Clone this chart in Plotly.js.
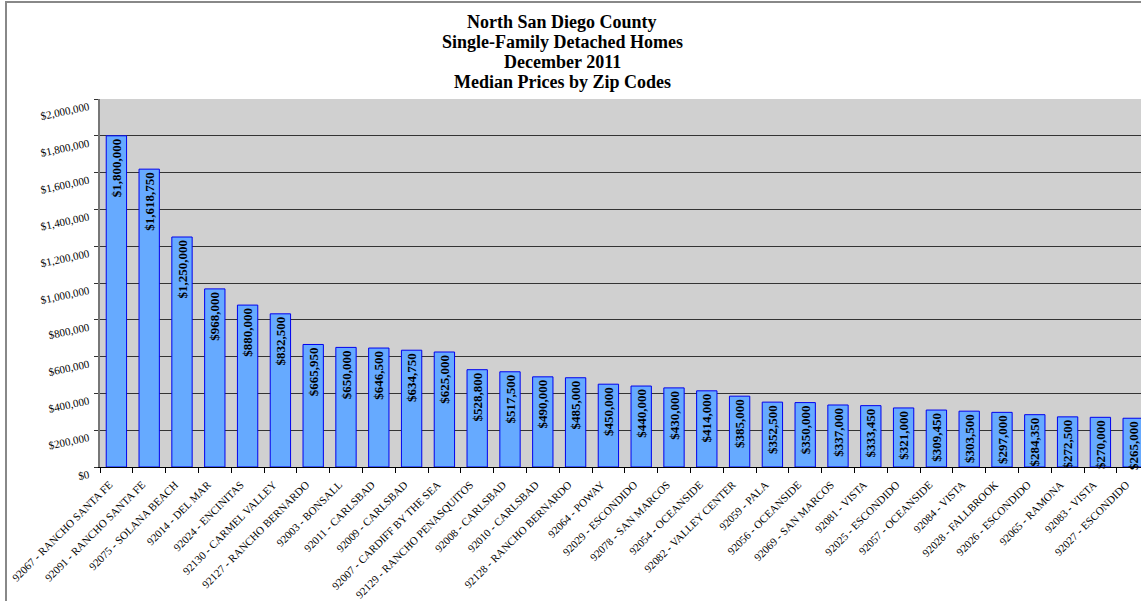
<!DOCTYPE html>
<html>
<head>
<meta charset="utf-8">
<script src="https://cdn.plot.ly/plotly-3.0.1.min.js"></script>
<style>html,body{margin:0;padding:0;background:#fff;overflow:hidden}#chart{width:1141px;height:601px}</style>
</head>
<body>
<div id="chart"></div>
<script>
const zipAreas = [
  "92067 - RANCHO SANTA FE","92091 - RANCHO SANTA FE","92075 - SOLANA BEACH","92014 - DEL MAR",
  "92024 - ENCINITAS","92130 - CARMEL VALLEY","92127 - RANCHO BERNARDO","92003 - BONSALL",
  "92011 - CARLSBAD","92009 - CARLSBAD","92007 - CARDIFF BY THE SEA","92129 - RANCHO PENASQUITOS",
  "92008 - CARLSBAD","92010 - CARLSBAD","92128 - RANCHO BERNARDO","92064 - POWAY",
  "92029 - ESCONDIDO","92078 - SAN MARCOS","92054 - OCEANSIDE","92082 - VALLEY CENTER",
  "92059 - PALA","92056 - OCEANSIDE","92069 - SAN MARCOS","92081 - VISTA",
  "92025 - ESCONDIDO","92057 - OCEANSIDE","92084 - VISTA","92028 - FALLBROOK",
  "92026 - ESCONDIDO","92065 - RAMONA","92083 - VISTA","92027 - ESCONDIDO"
];
const medianPrices = [
  1800000,1618750,1250000,968000,880000,832500,665950,650000,
  646500,634750,625000,528800,517500,490000,485000,450000,
  440000,430000,414000,385000,352500,350000,337000,333450,
  321000,309450,303500,297000,284350,272500,270000,265000
];
const titleLines = ["North San Diego County","Single-Family Detached Homes","December 2011","Median Prices by Zip Codes"];

const priceLabels = medianPrices.map(v => "$" + v.toLocaleString("en-US"));
const serif = "'Liberation Serif', 'Times New Roman', serif";

const trace = {
  type: "bar",
  x: zipAreas,
  y: medianPrices,
  width: 0.62,
  marker: {color: "#66aaff", line: {color: "#0000ee", width: 1}},
  text: priceLabels,
  textposition: "inside",
  insidetextanchor: "end",
  textangle: -90,
  constraintext: "none",
  cliponaxis: false,
  textfont: {family: serif, size: 13, color: "#000", weight: "bold"},
  hoverinfo: "x+y"
};

const plotW = 1141 - 100, plotH = 467 - 99;
const px2x = p => (p - 100) / plotW;
const py2y = p => (467 - p) / plotH;

const titleAnnotations = titleLines.map((s, i) => ({
  text: "<b>" + s + "</b>",
  xref: "paper", yref: "paper",
  x: px2x(562), y: py2y(22 + 20 * i),
  xanchor: "center", yanchor: "middle",
  showarrow: false,
  font: {family: serif, size: 18, color: "#000"}
}));

const layout = {
  width: 1141, height: 601,
  margin: {l: 100, r: 0, t: 99, b: 134, pad: 0},
  paper_bgcolor: "#ffffff",
  plot_bgcolor: "#d0d0d0",
  showlegend: false,
  bargap: 0.38,
  title: {text: ""},
  annotations: titleAnnotations,
  xaxis: {
    type: "category",
    range: [-0.5, -0.5 + plotW / 32.8],
    tickangle: -45,
    tickson: "boundaries",
    ticks: "outside", ticklen: 5, tickcolor: "#000", tickwidth: 1,
    showline: true, linecolor: "#000", linewidth: 1,
    showgrid: false,
    ticklabelstandoff: 6,
    ticklabelshift: -7,
    tickfont: {family: serif, size: 11, color: "#000"},
    automargin: false
  },
  yaxis: {
    range: [0, 2000000],
    dtick: 200000,
    tickprefix: "$", tickformat: ",d",
    tickangle: -12,
    ticks: "outside", ticklen: 4, tickcolor: "#333", tickwidth: 1,
    showline: true, linecolor: "#777", linewidth: 2,
    showgrid: true, gridcolor: "#333", gridwidth: 1,
    zeroline: false,
    ticklabelstandoff: 3,
    ticklabelshift: 7,
    tickfont: {family: serif, size: 11, color: "#000"},
    automargin: false
  },
  shapes: [
    {type: "line", xref: "paper", yref: "paper", x0: px2x(6), x1: px2x(6), y0: py2y(1), y1: py2y(610), line: {color: "#888", width: 2}},
    {type: "line", xref: "paper", yref: "paper", x0: px2x(6), x1: px2x(1150), y0: py2y(2), y1: py2y(2), line: {color: "#888", width: 2}}
  ]
};

Plotly.newPlot("chart", [trace], layout, {displayModeBar: false, staticPlot: true});
</script>
</body>
</html>
